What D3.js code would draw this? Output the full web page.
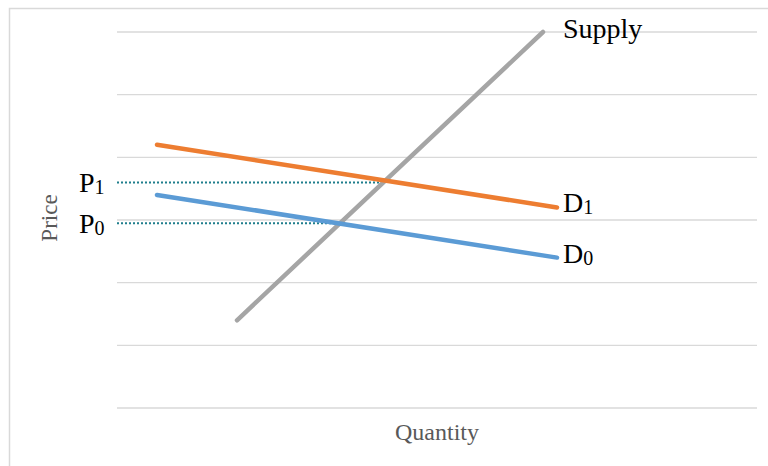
<!DOCTYPE html>
<html>
<head>
<meta charset="utf-8">
<script src="https://cdn.jsdelivr.net/npm/d3@7"></script>
<style>
  html, body { margin: 0; padding: 0; background: #fff; }
  svg { display: block; }
</style>
</head>
<body>
<svg id="chart" width="768" height="466"></svg>
<script>
// ---- data ----
const gridTicks = [0, 10, 20, 30, 40, 50, 60];
const supplyQ = [3, 10.65];
const supplyP = [14, 60];
const d1Q = [1, 11];
const d1P = [42, 32];
const d0Q = [1, 11];
const d0P = [34, 24];
const priceLevels = ["P1", "P0"];
const priceValues = [36.0, 29.5];
const priceQuantities = [6.7, 5.57];
const curveNames = ["Supply", "D1", "D0"];

const svg = d3.select("#chart");

const x = d3.scaleLinear().domain([0, 16]).range([117, 757]);
const y = d3.scaleLinear().domain([0, 60]).range([408, 32]);

// chart border
svg.append("rect")
  .attr("x", 9.5).attr("y", 8.5)
  .attr("width", 900).attr("height", 600)
  .attr("fill", "#fff").attr("stroke", "#d9d9d9").attr("stroke-width", 1.5);

// gridlines
svg.append("g").selectAll("line").data(gridTicks).join("line")
  .attr("x1", x(0)).attr("x2", x(16))
  .attr("y1", d => y(d)).attr("y2", d => y(d))
  .attr("stroke", "#d9d9d9").attr("stroke-width", 1.3);

// dotted price lines
svg.append("g").selectAll("line").data(priceValues).join("line")
  .attr("x1", x(0)).attr("x2", (d, i) => x(priceQuantities[i]))
  .attr("y1", d => y(d)).attr("y2", d => y(d))
  .attr("stroke", "#1f7e8c").attr("stroke-width", 2)
  .attr("stroke-dasharray", "2,2");

const line = d3.line().x(d => x(d[0])).y(d => y(d[1]));
const curves = [
  { q: supplyQ, p: supplyP, color: "#a5a5a5" },
  { q: d1Q, p: d1P, color: "#ed7d31" },
  { q: d0Q, p: d0P, color: "#5b9bd5" }
];
svg.append("g").selectAll("path").data(curves).join("path")
  .attr("d", c => line(c.q.map((q, i) => [q, c.p[i]])))
  .attr("fill", "none")
  .attr("stroke", c => c.color)
  .attr("stroke-width", 4.5)
  .attr("stroke-linecap", "round");

const font = "'Liberation Serif', 'Times New Roman', serif";

// curve labels
function subLabel(g, main, sub, xx, yy) {
  const t = g.append("text")
    .attr("x", xx).attr("y", yy)
    .attr("font-family", font).attr("font-size", 28).attr("fill", "#000");
  t.append("tspan").text(main);
  if (sub) t.append("tspan").attr("font-size", 20).attr("dy", 2).text(sub);
  return t;
}
const lg = svg.append("g");
subLabel(lg, curveNames[0], null, x(supplyQ[1]) + 20, y(supplyP[1]) + 6);
subLabel(lg, "D", curveNames[1].slice(1), x(d1Q[1]) + 6, y(d1P[1]) + 5);
subLabel(lg, "D", curveNames[2].slice(1), x(d0Q[1]) + 6, y(d0P[1]) + 5);

// price labels
priceLevels.forEach((lab, i) => {
  subLabel(lg, lab[0], lab.slice(1), 79, y(priceValues[i]) + 10);
});

// axis titles
svg.append("text")
  .attr("x", 437).attr("y", 440)
  .attr("text-anchor", "middle")
  .attr("font-family", font).attr("font-size", 24).attr("fill", "#595959")
  .text("Quantity");
svg.append("text")
  .attr("transform", "translate(57,218) rotate(-90)")
  .attr("text-anchor", "middle")
  .attr("font-family", font).attr("font-size", 23).attr("fill", "#595959")
  .text("Price");
</script>
</body>
</html>
